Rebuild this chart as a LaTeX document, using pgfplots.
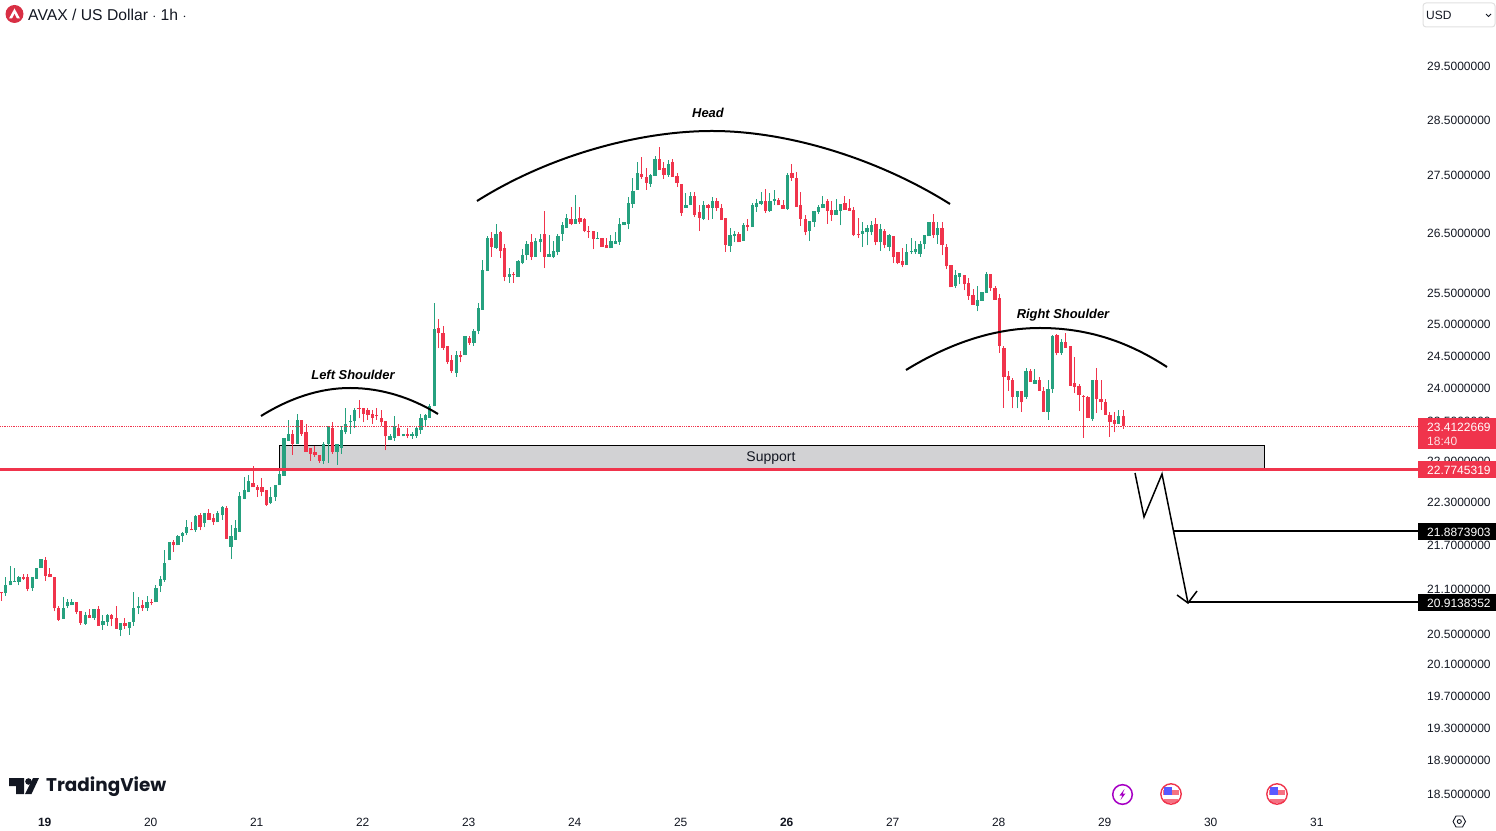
\documentclass[border=0pt]{standalone}
\usepackage{fontspec}
\usepackage{pgfplots}
\usepackage{pgfplotstable}
\pgfplotsset{compat=1.18}
\setmainfont{Liberation Sans}
\newfontfamily\tvfont{Poppins}
\definecolor{candleG}{HTML}{26A17F}
\definecolor{candleR}{HTML}{F0344C}
\definecolor{txt}{HTML}{131722}
\definecolor{zone}{HTML}{D2D2D4}
\definecolor{eventp}{HTML}{A600C4}
% t = hours since the 19th 00:00; hi, top and bot of the body, lo
\pgfplotstableread{
t hi top bot lo
-9 21.25 21.15 21.03 21.00
-8 21.41 21.20 21.14 21.14
-7 21.37 21.20 21.19 21.19
-6 21.27 21.25 21.19 21.14
-3 21.26 21.25 21.10 21.07
-2 21.37 21.37 21.23 21.23
-1 21.50 21.50 21.38 21.38
4 20.98 20.84 20.69 20.69
5 20.96 20.91 20.86 20.83
6 20.96 20.92 20.87 20.87
9 20.78 20.74 20.62 20.61
11 20.82 20.82 20.70 20.68
13 20.74 20.66 20.61 20.55
14 20.75 20.74 20.65 20.60
17 20.64 20.64 20.55 20.46
19 20.65 20.65 20.57 20.48
20 21.05 20.83 20.65 20.60
21 20.98 20.86 20.84 20.75
23 20.99 20.92 20.83 20.80
25 21.14 21.11 20.91 20.91
26 21.27 21.23 21.13 21.05
27 21.63 21.45 21.22 21.19
28 21.74 21.73 21.48 21.48
30 21.83 21.82 21.69 21.69
31 21.88 21.86 21.82 21.74
32 22.05 21.94 21.86 21.83
34 22.11 22.10 21.90 21.88
36 22.15 22.14 22.00 21.94
39 22.17 22.15 22.01 22.01
40 22.24 22.23 22.11 22.05
42 21.97 21.82 21.67 21.50
43 22.04 21.93 21.77 21.77
44 22.45 22.38 21.88 21.88
45 22.66 22.48 22.35 22.34
46 22.69 22.61 22.44 22.44
51 22.52 22.37 22.29 22.27
52 22.54 22.54 22.37 22.32
53 22.76 22.70 22.54 22.54
54 23.23 23.23 22.68 22.68
55 23.50 23.29 23.19 23.19
57 23.60 23.50 23.15 23.15
63 23.17 23.14 22.90 22.85
64 23.41 23.41 23.14 22.87
66 23.14 23.14 23.03 22.84
67 23.41 23.35 23.09 23.00
68 23.68 23.44 23.33 23.29
69 23.58 23.49 23.47 23.30
70 23.69 23.66 23.49 23.38
78 23.30 23.26 23.20 23.20
79 23.56 23.42 23.24 23.19
81 23.30 23.30 23.26 23.26
83 23.32 23.29 23.27 23.22
84 23.42 23.38 23.27 23.24
85 23.60 23.54 23.35 23.30
86 23.59 23.58 23.50 23.42
87 23.74 23.72 23.54 23.54
88 25.34 24.92 23.71 23.71
93 24.57 24.51 24.23 24.16
95 24.80 24.80 24.50 24.50
97 24.91 24.89 24.70 24.65
98 25.33 25.25 24.88 24.83
99 26.04 25.87 25.23 25.23
100 26.44 26.41 25.86 25.86
102 26.66 26.49 26.25 26.22
105 25.91 25.81 25.77 25.67
107 26.04 26.02 25.77 25.77
108 26.22 26.12 26.00 25.97
109 26.36 26.32 26.12 26.04
111 26.42 26.37 26.10 26.10
112 26.49 26.39 26.34 26.17
114 26.46 26.14 26.10 26.09
115 26.37 26.20 26.10 26.07
116 26.49 26.44 26.17 26.12
117 26.69 26.64 26.49 26.37
118 26.83 26.75 26.59 26.58
120 27.16 26.73 26.66 26.66
125 26.51 26.42 26.41 26.39
128 26.47 26.36 26.24 26.24
129 26.51 26.36 26.32 26.32
130 26.75 26.66 26.34 26.30
131 26.69 26.68 26.63 26.63
132 27.11 27.02 26.66 26.56
133 27.45 27.22 27.00 26.93
134 27.73 27.54 27.24 27.24
137 27.52 27.51 27.35 27.30
138 27.84 27.79 27.49 27.49
141 27.77 27.70 27.51 27.47
145 27.19 26.98 26.93 26.93
146 27.21 27.14 26.97 26.97
149 27.05 26.98 26.74 26.72
151 27.12 27.05 26.93 26.74
155 26.58 26.46 26.28 26.18
156 26.53 26.49 26.44 26.34
158 26.67 26.63 26.36 26.36
160 27.02 26.97 26.60 26.60
161 27.09 27.02 26.95 26.86
162 27.21 27.05 27.00 26.97
164 27.19 27.04 26.88 26.86
165 27.24 27.09 27.04 26.97
168 27.54 27.51 26.91 26.90
173 26.70 26.70 26.53 26.36
174 26.88 26.88 26.69 26.60
175 26.97 26.95 26.86 26.82
176 27.14 27.00 26.93 26.93
179 27.09 26.90 26.81 26.81
180 26.99 26.99 26.88 26.63
185 26.68 26.53 26.49 26.27
186 26.64 26.58 26.51 26.29
187 26.71 26.64 26.51 26.46
189 26.66 26.56 26.34 26.20
191 26.49 26.46 26.27 26.19
195 26.32 26.17 25.96 25.96
196 26.41 26.20 26.19 26.14
197 26.37 26.22 26.17 26.14
198 26.36 26.32 26.15 26.09
199 26.46 26.46 26.31 26.22
200 26.69 26.69 26.44 26.44
202 26.69 26.59 26.46 26.32
206 25.87 25.79 25.61 25.58
207 25.82 25.82 25.76 25.64
211 25.62 25.39 25.29 25.20
212 25.51 25.51 25.37 25.37
213 25.84 25.81 25.50 25.50
220 23.95 23.95 23.86 23.68
222 24.30 24.25 23.85 23.83
224 24.28 24.12 24.06 24.06
227 24.12 23.98 23.63 23.51
228 24.82 24.80 23.97 23.92
230 24.76 24.71 24.53 24.51
237 24.12 24.12 23.52 23.49
243 23.66 23.57 23.45 23.45
}\greenT
\pgfplotstableread{
t hi top bot lo
-10 21.05 21.05 21.03 20.93
-5 21.30 21.25 21.23 21.22
-4 21.30 21.25 21.09 21.06
0 21.53 21.49 21.27 21.20
1 21.37 21.30 21.25 21.25
2 21.26 21.26 20.83 20.79
3 20.86 20.84 20.68 20.66
7 20.92 20.91 20.78 20.75
8 20.79 20.79 20.64 20.61
10 20.82 20.74 20.70 20.70
12 20.86 20.82 20.60 20.60
15 20.75 20.74 20.69 20.59
16 20.86 20.70 20.56 20.56
18 20.70 20.64 20.60 20.56
22 20.94 20.88 20.84 20.80
24 20.95 20.92 20.90 20.87
29 21.76 21.74 21.69 21.60
33 22.02 21.92 21.90 21.90
35 22.14 22.11 21.95 21.90
37 22.20 22.14 22.05 22.05
38 22.13 22.08 22.01 21.98
41 22.24 22.21 21.78 21.78
47 22.82 22.58 22.51 22.51
48 22.55 22.52 22.48 22.37
49 22.64 22.52 22.45 22.38
50 22.47 22.47 22.26 22.25
56 23.36 23.30 23.15 22.99
58 23.51 23.50 23.30 23.27
59 23.44 23.32 23.03 23.03
60 23.08 23.08 23.00 22.90
61 23.12 23.03 22.99 22.96
62 22.99 22.99 22.90 22.87
65 23.47 23.39 23.03 23.00
71 23.81 23.69 23.68 23.53
72 23.69 23.68 23.60 23.47
73 23.68 23.65 23.58 23.51
74 23.65 23.59 23.54 23.45
75 23.68 23.58 23.56 23.51
76 23.66 23.54 23.47 23.42
77 23.49 23.49 23.26 23.05
80 23.44 23.39 23.26 23.26
82 23.38 23.29 23.27 23.23
89 25.07 24.93 24.85 24.61
90 24.97 24.85 24.62 24.59
91 24.65 24.64 24.40 24.36
92 24.51 24.43 24.25 24.23
94 24.56 24.51 24.48 24.39
96 24.80 24.78 24.70 24.67
101 26.51 26.42 26.27 26.10
103 26.54 26.51 26.20 26.07
104 26.32 26.25 25.77 25.69
106 25.84 25.81 25.79 25.67
110 26.49 26.34 26.09 26.04
113 26.87 26.49 26.10 25.91
119 26.94 26.73 26.66 26.63
121 26.94 26.75 26.68 26.66
122 26.75 26.73 26.53 26.51
123 26.61 26.54 26.51 26.41
124 26.53 26.53 26.39 26.22
126 26.42 26.42 26.27 26.27
127 26.41 26.29 26.25 26.25
135 27.82 27.52 27.47 27.44
136 27.63 27.47 27.37 27.24
139 28.00 27.79 27.59 27.59
140 27.73 27.63 27.51 27.44
142 27.79 27.73 27.47 27.47
143 27.54 27.49 27.37 27.29
144 27.35 27.35 26.84 26.79
147 27.21 27.14 26.81 26.77
148 26.97 26.86 26.76 26.53
150 27.00 26.98 26.93 26.72
152 27.10 27.05 26.93 26.88
153 27.00 26.93 26.72 26.72
154 26.75 26.75 26.30 26.18
157 26.51 26.48 26.34 26.34
159 26.74 26.63 26.60 26.53
163 27.26 27.05 26.88 26.84
166 27.10 27.07 26.97 26.97
167 27.07 26.97 26.91 26.91
169 27.70 27.54 27.45 27.40
170 27.56 27.45 26.95 26.95
171 27.21 26.97 26.74 26.62
172 26.81 26.74 26.51 26.46
177 27.08 27.04 26.88 26.66
178 27.04 26.90 26.81 26.71
181 27.13 27.01 26.90 26.90
182 27.08 26.92 26.88 26.88
183 26.94 26.90 26.47 26.44
184 26.75 26.49 26.47 26.41
188 26.76 26.66 26.34 26.29
190 26.56 26.54 26.29 26.24
192 26.44 26.44 26.09 25.99
193 26.17 26.17 26.00 25.97
194 26.24 26.02 25.96 25.92
201 26.83 26.68 26.46 26.42
203 26.68 26.58 26.29 26.12
204 26.32 26.27 25.94 25.89
205 25.96 25.96 25.59 25.59
208 25.79 25.79 25.64 25.54
209 25.74 25.67 25.45 25.39
210 25.56 25.46 25.31 25.31
214 25.81 25.81 25.58 25.53
215 25.62 25.58 25.39 25.39
216 25.49 25.41 24.65 24.54
217 24.64 24.62 24.16 23.69
218 24.25 24.17 24.12 23.95
219 24.14 24.11 23.85 23.68
221 23.94 23.94 23.77 23.63
223 24.28 24.25 24.09 24.09
225 24.16 24.12 23.95 23.95
226 24.00 23.95 23.63 23.63
229 24.84 24.82 24.53 24.50
231 24.85 24.71 24.62 24.62
232 24.65 24.64 24.03 24.03
233 24.47 24.07 24.01 23.91
234 24.05 24.03 23.89 23.64
235 23.89 23.87 23.86 23.24
236 23.87 23.85 23.54 23.54
238 24.30 24.12 23.82 23.61
239 24.12 23.82 23.78 23.66
240 23.83 23.78 23.58 23.58
241 23.63 23.58 23.48 23.25
242 23.63 23.51 23.45 23.32
244 23.65 23.57 23.42 23.37
}\redT
\newcommand{\pxfont}[1]{\fontsize{#1}{#1}\selectfont}
\pgfplotsset{
  wick/.style={draw=none, mark=none, error bars/.cd, y dir=plus, y explicit, error mark=none, error bar style={line width=1pt, draw=#1}},
  body/.style={draw=none, mark=none, error bars/.cd, y dir=plus, y explicit, error mark=none, error bar style={line width=3.3pt, draw=#1}},
}
\begin{document}
\begin{tikzpicture}
\useasboundingbox (0,0) rectangle (1496pt,830pt);
\begin{axis}[
  at={(0pt,22pt)}, anchor=south west,
  scale only axis, width=1418pt, height=808pt,
  xmin=-10.30, xmax=310.75,
  ymode=log, ymin=18.33, ymax=30.77,
  axis line style={draw=none},
  tick style={draw=none}, major tick length=0pt,
  yminorticks=false, xminorticks=false,
  xtick={0,24,48,72,96,120,144,168,192,216,240,264,288},
  xticklabels={\textbf{19},20,21,22,23,24,25,\textbf{26},27,28,29,30,31},
  xticklabel style={font=\pxfont{12}, text=txt, xshift=-0.8pt, yshift=-10pt, inner sep=0pt, anchor=north},
  xtick pos=lower,
  ytick={29.5,28.5,27.5,26.5,25.5,25,24.5,24,23.5,22.9,22.3,21.7,21.1,20.5,20.1,19.7,19.3,18.9,18.5},
  yticklabels={29.5000000,28.5000000,27.5000000,26.5000000,25.5000000,25.0000000,24.5000000,24.0000000,23.5000000,22.9000000,22.3000000,21.7000000,21.1000000,20.5000000,20.1000000,19.7000000,19.3000000,18.9000000,18.5000000},
  yticklabel pos=right,
  yticklabel style={font=\pxfont{12}, text=txt, anchor=west, inner sep=0pt, xshift=9pt, yshift=-0.7pt},
]
% support zone
\addplot[draw=black, line width=1pt, fill=zone] coordinates {(53.0,23.12)(276.1,23.12)(276.1,22.7745)(53.0,22.7745)} --cycle;
% candles
\addplot[wick=candleG] table[x=t, y=lo, y error expr=\thisrow{hi}-\thisrow{lo}] {\greenT};
\addplot[wick=candleR] table[x=t, y=lo, y error expr=\thisrow{hi}-\thisrow{lo}] {\redT};
\addplot[body=candleG] table[x=t, y=bot, y error expr=\thisrow{top}-\thisrow{bot}] {\greenT};
\addplot[body=candleR] table[x=t, y=bot, y error expr=\thisrow{top}-\thisrow{bot}] {\redT};
% price lines
\addplot[candleR, line width=0.8pt, densely dotted] coordinates {(-10.30,23.4123)(310.75,23.4123)};
\addplot[candleR, line width=3pt] coordinates {(-10.30,22.7745)(310.75,22.7745)};
\addplot[black, line width=2pt] coordinates {(255.5,21.8874)(310.75,21.8874)};
\addplot[black, line width=2pt] coordinates {(259,20.9138)(310.75,20.9138)};
\end{axis}
\begin{scope}[shift={(0pt,830pt)},x=1pt,y=-1pt]
% annotations
\draw[black, line width=2pt] (261,416) .. controls (290,398) and (320,388) .. (350,388) .. controls (382,388) and (412,398) .. (438,414);
\draw[black, line width=2pt] (477,201) .. controls (550,155) and (640,131) .. (712,131) .. controls (790,131) and (880,160) .. (950,204);
\draw[black, line width=2pt] (906,370) .. controls (950,343) and (995,328) .. (1040,328) .. controls (1090,328) and (1130,343) .. (1167,367);
\node[inner sep=0] at (353,375) {\pxfont{12.9}\bfseries\itshape Left Shoulder};
\node[inner sep=0] at (708,113) {\pxfont{12.9}\bfseries\itshape Head};
\node[inner sep=0] at (1063,315) {\pxfont{12.9}\bfseries\itshape Right Shoulder};
\node[inner sep=0, text=txt] at (771,458) {\pxfont{14}Support};
\draw[black, line width=1.5pt, line join=miter] (1135,473) -- (1144,517) -- (1162,474) -- (1188,603);
\draw[black, line width=1.5pt] (1177,595) -- (1188,603) -- (1197,591);
% price boxes
\fill[candleR] (1418,418) rectangle (1496,449);
\fill[candleR] (1418,461) rectangle (1496,478);
\fill[black] (1418,523) rectangle (1496,540);
\fill[black] (1418,594) rectangle (1496,611);
\node[anchor=west, inner sep=0, text=white] at (1427,427) {\pxfont{12}23.4122669};
\node[anchor=west, inner sep=0, text=white!85!candleR] at (1427,441) {\pxfont{12}18:40};
\node[anchor=west, inner sep=0, text=white] at (1427,470) {\pxfont{12}22.7745319};
\node[anchor=west, inner sep=0, text=white] at (1427,532) {\pxfont{12}21.8873903};
\node[anchor=west, inner sep=0, text=white] at (1427,603) {\pxfont{12}20.9138352};
% header
\fill[candleR!90!black] (14.5,14) circle (9);
\fill[white] (14.5,8.5) -- (20,18.5) -- (9,18.5) -- cycle;
\fill[candleR!90!black] (14.5,14) -- (17,18.8) -- (12,18.8) -- cycle;
\node[anchor=west, inner sep=0, text=txt] at (28,14.5) {\pxfont{15.7}AVAX / US Dollar $\cdot$ 1h $\cdot$};
\draw[draw=black!12, line width=1pt, rounded corners=3pt] (1423,3) rectangle (1495,27);
\node[anchor=west, inner sep=0, text=txt] at (1426,15) {\pxfont{12}USD};
\draw[txt, line width=0.9pt] (1486,14) -- (1488.5,16.5) -- (1491,14);
% logo
\fill[txt] (9,778) -- (24,778) -- (24,794) -- (16,794) -- (16,786) -- (9,786) -- cycle;
\fill[txt] (28.5,781.5) circle (3.3);
\fill[txt] (33,778) -- (39,778) -- (31.5,794) -- (25,794) -- cycle;
\node[anchor=west, inner sep=0, text=txt] at (46,786.5) {\tvfont\pxfont{18.4}\bfseries TradingView};
% event icons
\draw[draw=eventp, line width=1.5pt] (1122.5,794.5) circle (9.8);
\fill[eventp] (1124.5,789) -- (1119.5,795.5) -- (1122.3,795.5) -- (1120.5,800) -- (1125.5,793.5) -- (1122.7,793.5) -- cycle;
\foreach \fx in {1171,1277}{
  \fill[white] (\fx,794) circle (11);
  \fill[candleR!70!white] (\fx-8,790) rectangle (\fx+8,795);
  \fill[candleR!70!white] (\fx-7,798.5) rectangle (\fx+7,803);
  \fill[blue!65!white] (\fx-7.5,786.5) rectangle (\fx+1,795);
  \draw[candleR, line width=1.4pt] (\fx,794) circle (10.2);
}
\draw[txt, line width=0.9pt] (1453,821.5) -- (1456,816) -- (1462.5,816) -- (1465.5,821.5) -- (1462.5,827) -- (1456,827) -- cycle;
\draw[txt, line width=0.9pt] (1459.3,821.5) circle (2);
\end{scope}
\end{tikzpicture}
\end{document}
